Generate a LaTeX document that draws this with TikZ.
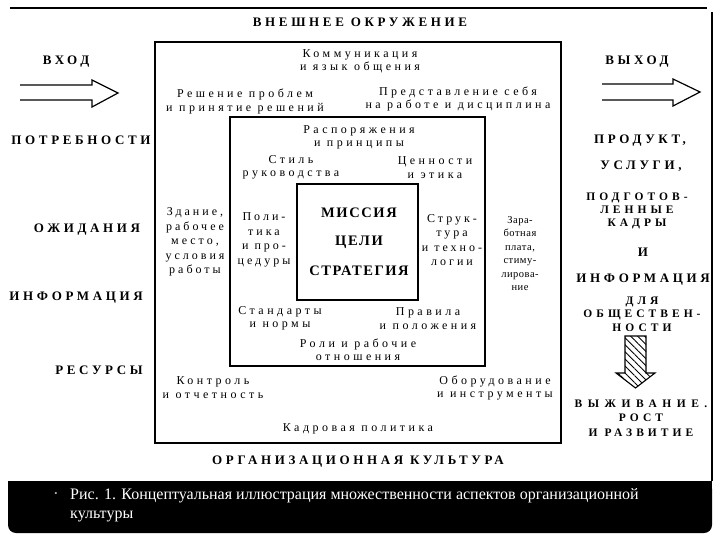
\documentclass[tikz,border=0pt]{standalone}
\usepackage{fontspec}
\setmainfont{Liberation Serif}
\newfontfamily\capsf[LetterSpace=28]{Liberation Serif}
\newfontfamily\capsn[LetterSpace=35]{Liberation Serif}
\newfontfamily\capsw[LetterSpace=48]{Liberation Serif}
\newfontfamily\txtf[LetterSpace=29]{Liberation Serif}
\newfontfamily\colf[LetterSpace=25]{Liberation Serif}
\newfontfamily\narf[LetterSpace=5]{Liberation Serif}
\newfontfamily\midf[LetterSpace=11]{Liberation Serif}
\newfontfamily\capfont{Liberation Serif}
\usetikzlibrary{patterns.meta}
\tikzset{
  headtxt/.style={font=\capsf\bfseries\fontsize{13}{15}\selectfont, inner sep=0pt, align=center},
  smallhead/.style={font=\capsn\bfseries\fontsize{11}{13.5}\selectfont, inner sep=0pt, align=center},
  bodytxt/.style={font=\txtf\fontsize{12}{13.5}\selectfont, inner sep=0pt, align=center},
  coltxt/.style={font=\colf\fontsize{12}{14.5}\selectfont, inner sep=0pt, align=center},
  nartxt/.style={font=\narf\fontsize{10.5}{13.4}\selectfont, inner sep=0pt, align=center},
  midtxt/.style={font=\midf\bfseries\fontsize{14.5}{16}\selectfont, inner sep=0pt},
  frame/.style={draw=black, line width=1.7pt, inner sep=0pt, fill=none},
  openarrow/.style={draw=black, line width=1.2pt, line join=miter},
}
\begin{document}
\begin{tikzpicture}[x=1pt,y=-1pt]
\useasboundingbox (0,0) rectangle (720,540);
% slide border
\draw[line width=1.8pt] (10,8) -- (707,8);
\draw[line width=1.3pt] (712,12) -- (712,481);
% caption band
\fill[black, rounded corners=8pt] (8,481) rectangle (712,533);
\fill[black] (8,481) rectangle (712,500);
\node[text=gray!60, font=\capfont\fontsize{9}{9}\selectfont, inner sep=0pt] (bullet) at (56,494) {•};
\node[text=white, font=\capfont\fontsize{16}{19}\selectfont, inner sep=0pt, anchor=north west, align=left] (caption) at (70,488)
  {Рис. 1. Концептуальная иллюстрация множественности аспектов организационной\\культуры};

% boxes
\node[frame, minimum width=406pt, minimum height=401pt] (outer) at (358,242.5) {};
\node[frame, minimum width=255pt, minimum height=249pt] (inner) at (357.5,241.5) {};
\node[frame, minimum width=121pt, minimum height=116pt] (core) at (357.5,242) {};

% headings
\node[headtxt] (vneshn) at (360,22) {ВНЕШНЕЕ ОКРУЖЕНИЕ};
\node[headtxt] (orgcult) at (358,462) {ОРГАНИЗАЦИОННАЯ КУЛЬТУРА};

% left column
\node[headtxt] (vhod) at (66,62) {ВХОД};
\node[headtxt] (potr) at (81,140) {ПОТРЕБНОСТИ};
\node[headtxt] (ozhid) at (87,230) {ОЖИДАНИЯ};
\node[headtxt] (inform) at (76,298) {ИНФОРМАЦИЯ};
\node[headtxt] (resurs) at (99,370) {РЕСУРСЫ};

% right column
\node[headtxt] (vyhod) at (637,62) {ВЫХОД};
\node[headtxt] (prod) at (640,141) {ПРОДУКТ,};
\node[headtxt] (usl) at (641,166) {УСЛУГИ,};
\node[smallhead, font=\capsn\bfseries\fontsize{11.5}{13}\selectfont] (podg) at (637,210.5) {ПОДГОТОВ-\\ЛЕННЫЕ\\КАДРЫ};
\node[headtxt] (i) at (643,252) {И};
\node[headtxt] (inform2) at (643,280) {ИНФОРМАЦИЯ};
\node[smallhead, font=\capsn\bfseries\fontsize{11.5}{13.5}\selectfont] (dlya) at (642,314) {ДЛЯ\\ОБЩЕСТВЕН-\\НОСТИ};
\node[smallhead, font=\capsn\bfseries\fontsize{11.5}{14.5}\selectfont] (vyzh) at (641,418) {{\capsw\bfseries ВЫЖИВАНИЕ.}\\РОСТ\\И РАЗВИТИЕ};

% outer ring texts
\node[bodytxt] (komm) at (360,61.5) {Коммуникация\\и язык общения};
\node[bodytxt] (resh) at (245,101.5) {Решение проблем\\и принятие решений};
\node[bodytxt] (pred) at (458,99) {Представление себя\\на работе и дисциплина};
\node[coltxt] (zdan) at (195,242) {Здание,\\рабочее\\место,\\условия\\работы};
\node[nartxt] (zarp) at (520,253.5) {Зара-\\ботная\\плата,\\стиму-\\лирова-\\ние};
\node[bodytxt] (kontr) at (213,387.5) {Контроль\\и отчетность};
\node[bodytxt] (obor) at (495,388) {Оборудование\\и инструменты};
\node[bodytxt] (kadr) at (358,429) {Кадровая политика};

% inner ring texts
\node[bodytxt] (rasp) at (359,137.5) {Распоряжения\\и принципы};
\node[bodytxt] (stil) at (291,167.5) {Стиль\\руководства};
\node[bodytxt] (cenn) at (435,167.5) {Ценности\\и этика};
\node[coltxt] (poli) at (264,240) {Поли-\\тика\\и про-\\цедуры};
\node[coltxt] (struk) at (452,240) {Струк-\\тура\\и техно-\\логии};
\node[bodytxt] (stand) at (280,318.5) {Стандарты\\и нормы};
\node[bodytxt] (prav) at (428,318.5) {Правила\\и положения};
\node[bodytxt] (roli) at (358,350) {Роли и рабочие\\отношения};

% core
\node[midtxt] (missia) at (359,213) {МИССИЯ};
\node[midtxt] (celi) at (359,242) {ЦЕЛИ};
\node[midtxt] (strat) at (359,271) {СТРАТЕГИЯ};

% open arrows
\draw[openarrow] (20,85) -- (92,85) -- (92,80) -- (118,93) -- (92,107) -- (92,100) -- (20,100);
\draw[openarrow] (602,84) -- (673,84) -- (673,79) -- (700,92) -- (673,106) -- (673,100) -- (602,100);

% hatched down arrow
\draw[line width=1.1pt, pattern={Lines[angle=-45, distance=5pt, line width=0.9pt]}]
  (625,336) -- (646,336) -- (646,373) -- (655,373) -- (635.5,388) -- (616,373) -- (625,373) -- cycle;
\end{tikzpicture}
\end{document}
